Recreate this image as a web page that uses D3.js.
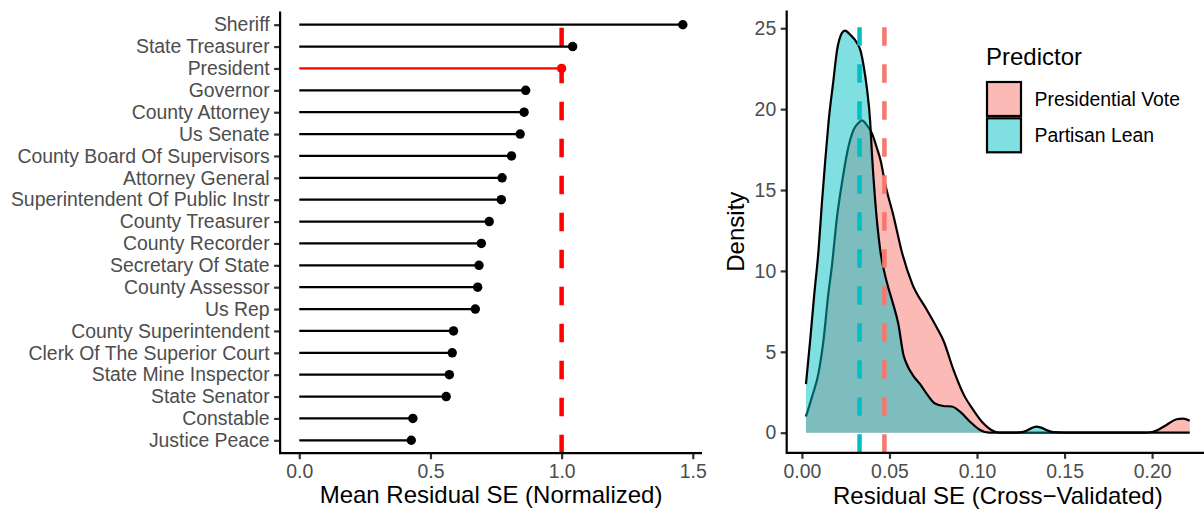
<!DOCTYPE html>
<html>
<head>
<meta charset="utf-8">
<script src="https://cdn.jsdelivr.net/npm/d3@7"></script>
<style>
  body { margin: 0; background: #fff; }
  svg { font-family: "Liberation Sans", Arial, sans-serif; }
</style>
</head>
<body>
<svg id="chart" width="1204" height="512"></svg>
<script>
// left panel: offices ordered top to bottom
var offices = ["Sheriff", "State Treasurer", "President", "Governor", "County Attorney",
  "Us Senate", "County Board Of Supervisors", "Attorney General",
  "Superintendent Of Public Instr", "County Treasurer", "County Recorder",
  "Secretary Of State", "County Assessor", "Us Rep", "County Superintendent",
  "Clerk Of The Superior Court", "State Mine Inspector", "State Senator",
  "Constable", "Justice Peace"];
var meanResidSE = [1.462, 1.042, 1.0, 0.863, 0.857, 0.842, 0.809, 0.773, 0.770, 0.724,
  0.694, 0.685, 0.680, 0.671, 0.588, 0.583, 0.572, 0.560, 0.433, 0.427];
var highlightOffice = "President";
var refLine = 1.0;
var leftTicks = [0, 0.5, 1.0, 1.5];

// right panel: density curves
var presX = [0.0023, 0.0057, 0.0095, 0.0123, 0.0150, 0.0171, 0.0200, 0.0228, 0.0260, 0.0294,
  0.0323, 0.0342, 0.0371, 0.0400, 0.0428, 0.0450, 0.0475, 0.0523, 0.0570, 0.0630,
  0.0713, 0.0770, 0.0808, 0.0865, 0.0922, 0.0979, 0.1036, 0.1093, 0.1131, 0.1950,
  0.2006, 0.2082, 0.2139, 0.2177, 0.2215];
var presDensity = [1.0, 2.2, 3.7, 5.7, 8.5, 10.3, 13.3, 15.4, 17.4, 18.7,
  19.15, 19.3, 19.0, 18.5, 17.6, 16.8, 15.4, 13.4, 11.2, 9.2,
  7.6, 6.5, 5.7, 3.9, 2.4, 1.4, 0.58, 0.1, 0.0, 0.0,
  0.06, 0.48, 0.83, 0.87, 0.74];
var leanX = [0.0023, 0.0047, 0.0070, 0.0095, 0.0114, 0.0133, 0.0152, 0.0180, 0.0200, 0.0228,
  0.0245, 0.0276, 0.0314, 0.0335, 0.0352, 0.0371, 0.0390, 0.0400, 0.0418, 0.0447,
  0.0485, 0.0517, 0.0551, 0.0580, 0.0600, 0.0637, 0.0675, 0.0713, 0.0760, 0.0808,
  0.0856, 0.0903, 0.0960, 0.1017, 0.1070, 0.1200, 0.1264, 0.1340, 0.1435, 0.1500,
  0.2215];
var leanDensity = [3.0, 5.7, 8.5, 11.3, 14.2, 16.8, 19.2, 21.8, 23.6, 24.7,
  24.85, 24.6, 24.1, 23.6, 22.7, 21.3, 19.2, 17.2, 14.4, 11.3,
  9.3, 8.1, 6.7, 4.8, 4.2, 3.5, 3.0, 2.4, 1.8, 1.65,
  1.62, 1.3, 0.68, 0.17, 0.0, 0.0, 0.05, 0.37, 0.03, 0.0,
  0.0];
var meanPres = 0.0471;
var meanLean = 0.0329;
var groups = ["Presidential Vote", "Partisan Lean"];
var groupColors = ["#F8766D", "#00BFC4"];
var rightTicksX = [0, 0.05, 0.10, 0.15, 0.20];
var rightTicksY = [0, 5, 10, 15, 20, 25];

var svg = d3.select("#chart");
var tickColor = "#333333", textColor = "#4D4D4D";
var lw = 2.2;
var tickFont = "19.4px", titleFont = "24px";

function styleAxis(g) {
  g.select(".domain").remove();
  g.selectAll(".tick line").attr("stroke", tickColor).attr("stroke-width", lw);
  g.selectAll(".tick text").attr("fill", textColor).style("font-size", tickFont);
}

// ---------- left panel ----------
var L = {left: 280.1, right: 702, top: 11.6, bottom: 453.2};
var xL = d3.scaleLinear().domain([-0.0731, 1.5351]).range([L.left, L.right]);
var yL = d3.scalePoint().domain(offices).range([24.7, 440.3]);

var left = svg.append("g");

// reference line
left.append("line")
  .attr("x1", xL(refLine)).attr("x2", xL(refLine))
  .attr("y1", L.bottom).attr("y2", L.top)
  .attr("stroke", "#FF0000").attr("stroke-width", 4.5)
  .attr("stroke-dasharray", "18.5,18.5");

offices.forEach(function(o, i) {
  var col = o == highlightOffice ? "#FF0000" : "#000000";
  left.append("line")
    .attr("x1", xL(0)).attr("x2", xL(meanResidSE[i]))
    .attr("y1", yL(o)).attr("y2", yL(o))
    .attr("stroke", col).attr("stroke-width", lw);
  left.append("circle")
    .attr("cx", xL(meanResidSE[i])).attr("cy", yL(o))
    .attr("r", 4.7).attr("fill", col);
});

left.append("g")
  .attr("transform", "translate(0," + L.bottom + ")")
  .call(d3.axisBottom(xL).tickValues(leftTicks).tickFormat(d3.format(".1f")).tickSize(6).tickPadding(5))
  .call(styleAxis);
left.append("g")
  .attr("transform", "translate(" + L.left + ",0)")
  .call(d3.axisLeft(yL).tickSize(6).tickPadding(4.5))
  .call(styleAxis);

// axis lines
left.append("path")
  .attr("d", "M" + L.left + "," + L.top + "V" + L.bottom + "H" + L.right)
  .attr("fill", "none").attr("stroke", "#000").attr("stroke-width", lw);

left.append("text")
  .attr("x", (L.left + L.right) / 2).attr("y", 503)
  .attr("text-anchor", "middle").style("font-size", titleFont)
  .text("Mean Residual SE (Normalized)");

// ---------- right panel ----------
var R = {left: 786.7, right: 1209, top: 10.6, bottom: 452.8};
var xR = d3.scaleLinear().domain([-0.0087, 0.2325]).range([R.left, R.right]);
var yR = d3.scaleLinear().domain([-1.2425, 26.09]).range([R.bottom, R.top]);

var right = svg.append("g");

var series = [
  {name: groups[0], color: groupColors[0], pts: d3.zip(presX, presDensity)},
  {name: groups[1], color: groupColors[1], pts: d3.zip(leanX, leanDensity)}
];

var area = d3.area()
  .x(function(d) { return xR(d[0]); })
  .y0(yR(0))
  .y1(function(d) { return yR(d[1]); })
  .curve(d3.curveMonotoneX);
var line = d3.line()
  .x(function(d) { return xR(d[0]); })
  .y(function(d) { return yR(d[1]); })
  .curve(d3.curveMonotoneX);

series.forEach(function(s) {
  right.append("path").attr("d", area(s.pts))
    .attr("fill", s.color).attr("fill-opacity", 0.5);
  right.append("path").attr("d", line(s.pts))
    .attr("fill", "none").attr("stroke", "#000").attr("stroke-width", lw);
});

// group means
[[meanPres, groupColors[0]], [meanLean, groupColors[1]]].forEach(function(m) {
  right.append("line")
    .attr("x1", xR(m[0])).attr("x2", xR(m[0]))
    .attr("y1", R.bottom).attr("y2", R.top)
    .attr("stroke", m[1]).attr("stroke-width", 4.5)
    .attr("stroke-dasharray", "18.5,18.5");
});

right.append("g")
  .attr("transform", "translate(0," + R.bottom + ")")
  .call(d3.axisBottom(xR).tickValues(rightTicksX).tickFormat(d3.format(".2f")).tickSize(6).tickPadding(5))
  .call(styleAxis);
right.append("g")
  .attr("transform", "translate(" + R.left + ",0)")
  .call(d3.axisLeft(yR).tickValues(rightTicksY).tickFormat(d3.format("d")).tickSize(6).tickPadding(4.5))
  .call(styleAxis);

right.append("path")
  .attr("d", "M" + R.left + "," + R.top + "V" + R.bottom + "H" + R.right)
  .attr("fill", "none").attr("stroke", "#000").attr("stroke-width", lw);

right.append("text")
  .attr("x", (R.left + R.right) / 2).attr("y", 504)
  .attr("text-anchor", "middle").style("font-size", titleFont)
  .text("Residual SE (Cross\u2212Validated)");
right.append("text")
  .attr("transform", "translate(744," + ((R.top + R.bottom) / 2) + ") rotate(-90)")
  .attr("text-anchor", "middle").style("font-size", titleFont)
  .text("Density");

// legend
var legend = right.append("g").attr("transform", "translate(986,0)");
legend.append("text").attr("x", 0).attr("y", 65).style("font-size", titleFont).text("Predictor");
groups.forEach(function(gname, i) {
  var y0 = 81 + i * 36.3;
  legend.append("rect")
    .attr("x", 1).attr("y", y0 + 1).attr("width", 34).attr("height", 34)
    .attr("fill", groupColors[i]).attr("fill-opacity", 0.5)
    .attr("stroke", "#000").attr("stroke-width", lw);
  legend.append("text")
    .attr("x", 48.5).attr("y", y0 + 18).attr("dy", "0.35em")
    .style("font-size", tickFont).text(gname);
});
</script>
</body>
</html>
